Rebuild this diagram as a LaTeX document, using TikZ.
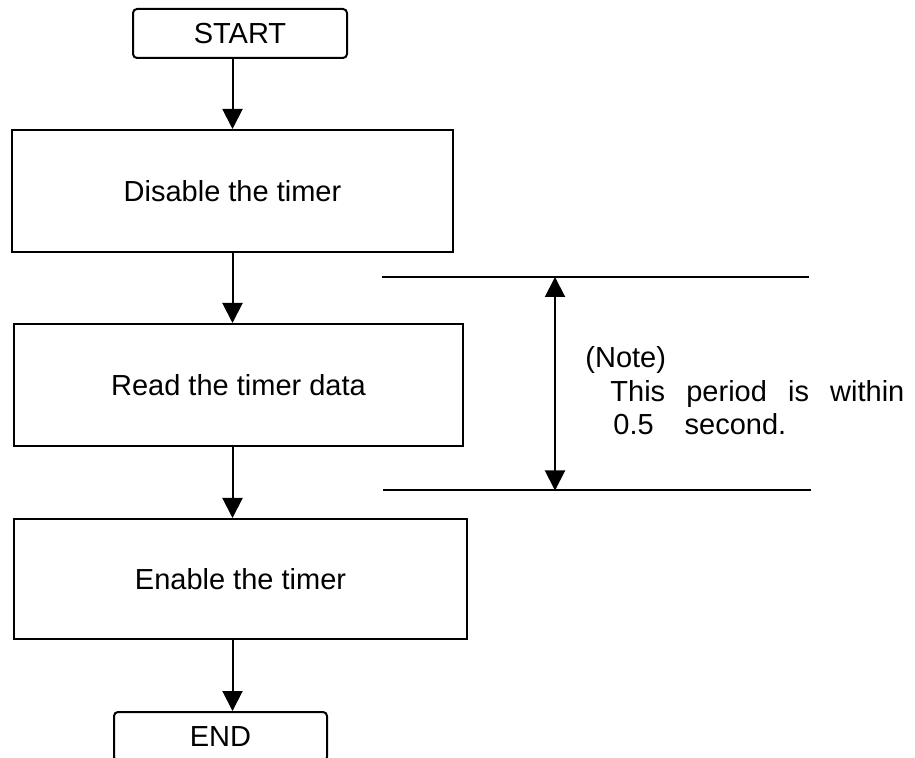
\documentclass[tikz,border=0pt]{standalone}
\usepackage{fontspec}
\setmainfont{Liberation Sans}
\usepackage{tikz}
\usetikzlibrary{arrows.meta}
\usetikzlibrary{positioning}

\tikzset{
    txt/.style={font=\fontsize{14.5}{17}\selectfont},
    termbox/.style={txt, draw, line width=1pt, rounded corners=2pt, minimum width=107pt, minimum height=24.5pt, inner sep=0pt},
    procbox/.style={txt, draw, line width=1pt, minimum height=61pt, inner sep=0pt},
    flow/.style={line width=1pt, -{Triangle[width=10pt,length=10pt]}},
    span/.style={line width=1pt, {Triangle[width=10pt,length=10pt]}-{Triangle[width=10pt,length=10pt]}},
    rule/.style={line width=1pt}
}

\begin{document}
\begin{tikzpicture}[x=0.5pt, y=-0.5pt]
    % 1. Fix the page to the size of the picture
    \useasboundingbox (0,0) rectangle (915,758);

    % 2. Start and end of the flow
    \node[termbox] (start) at (240,33.5) {START};
    \node[termbox, minimum width=106.5pt] (end) at (220.5,736.5) {END};

    % 3. The three steps
    \node[procbox, minimum width=220.5pt] (disable) at (232.5,191) {Disable the timer};
    \node[procbox, minimum width=224.5pt] (read) at (238.5,385) {Read the timer data};
    \node[procbox, minimum width=226.5pt, minimum height=60pt] (enable) at (240.5,579) {Enable the timer};

    % 4. Arrows between the boxes
    \draw[flow] (disable.north |- start.south) -- (disable.north);
    \draw[flow] (disable.south) -- (disable.south |- read.north);
    \draw[flow] (disable.south |- read.south) -- (disable.south |- enable.north);
    \draw[flow] (disable.south |- enable.south) -- (disable.south |- end.north);

    % 5. The measured period, with its limits
    \coordinate (ruleAl) at (382,277);
    \coordinate (ruleAr) at (809,277);
    \coordinate (ruleBl) at (383,490.5);
    \coordinate (ruleBr) at (811,490.5);
    \draw[rule] (ruleAl) -- (ruleAr);
    \draw[rule] (ruleBl) -- (ruleBr);
    \draw[span] (ruleAl -| 555,0) -- (ruleBl -| 555,0);

    % 6. The note
    \node[txt, anchor=base west, inner sep=0pt] (note) at (585,368) {(Note)};
    \node[txt, anchor=base west, inner sep=0pt] (notea) at (610,402) {\makebox[147pt][s]{This period is within}};
    \node[txt, anchor=base west, inner sep=0pt] (noteb) at (613,435) {0.5\hspace{15.5pt}second.};
\end{tikzpicture}
\end{document}
